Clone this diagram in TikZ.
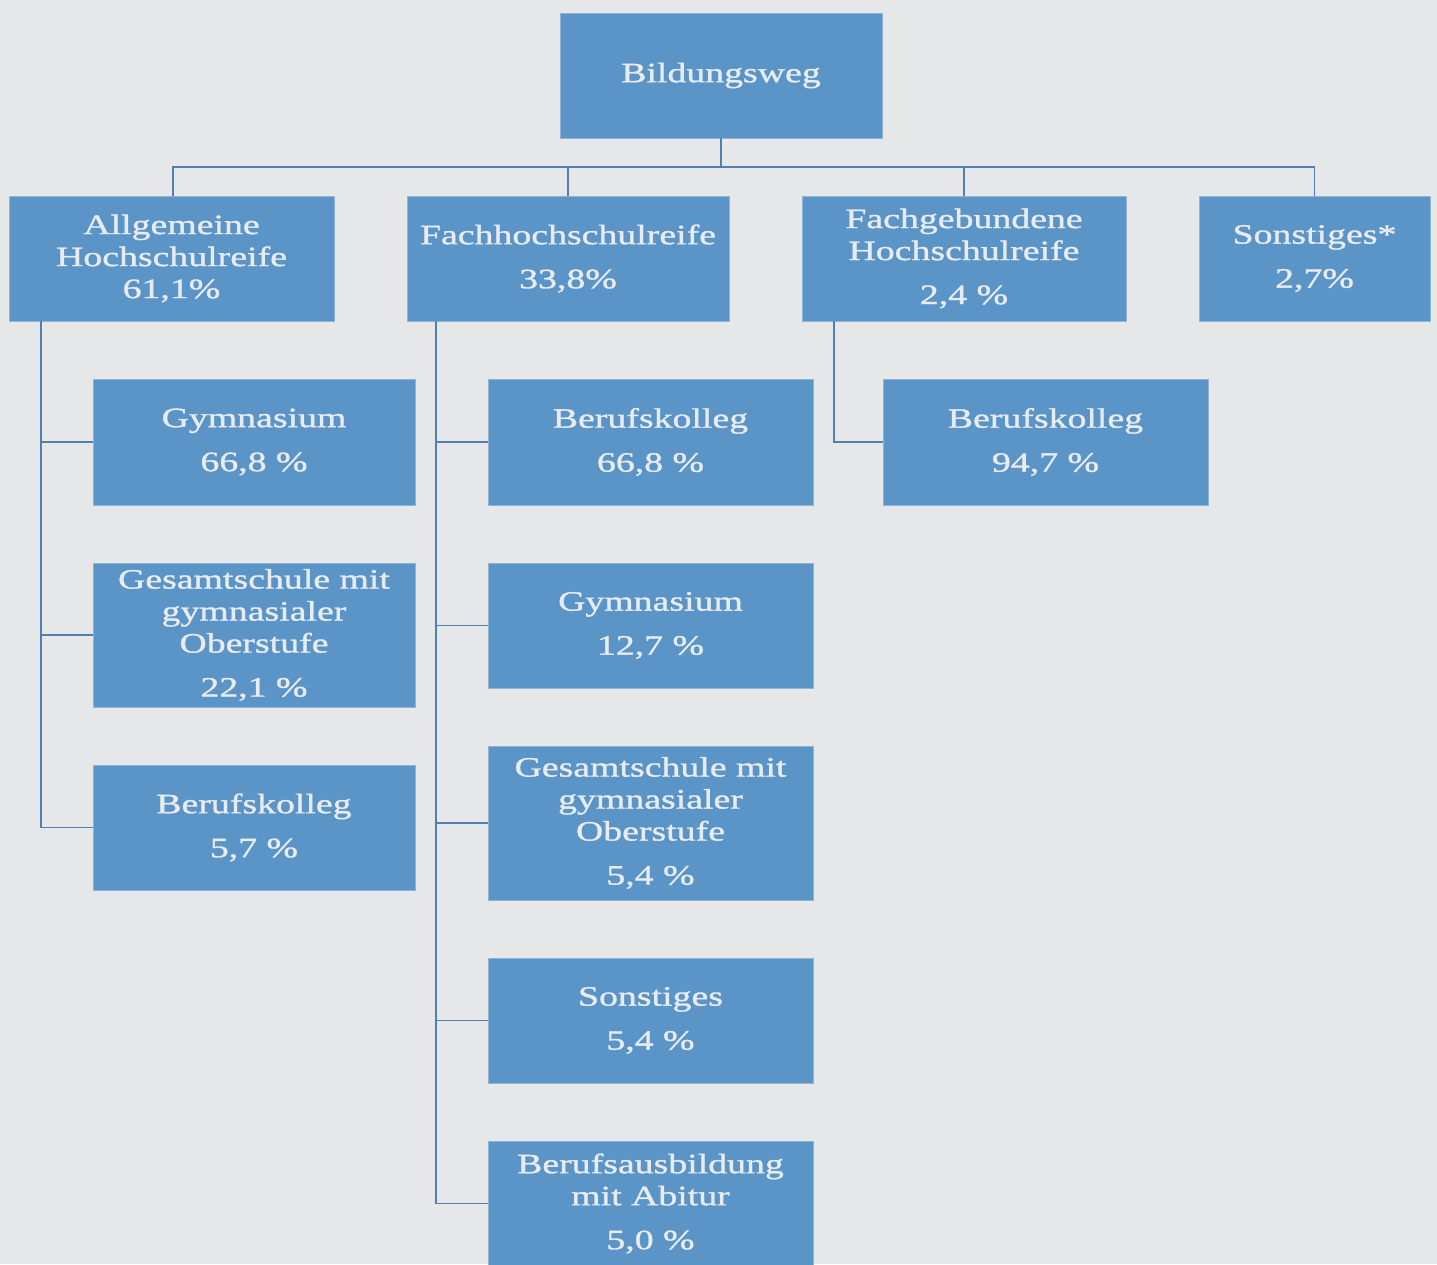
\documentclass[tikz,border=0pt]{standalone}
\usepackage{fontspec}
\setmainfont{Liberation Serif}[FakeStretch=1.35,FakeBold=1.2]
\definecolor{bg}{HTML}{E6E7E9}
\definecolor{boxblue}{HTML}{5B94C6}
\definecolor{boxedge}{HTML}{8DB3D6}
\definecolor{linec}{HTML}{4F80AF}
\definecolor{txt}{HTML}{E8EBF0}
\begin{document}
\begin{tikzpicture}[x=1pt,y=-1pt,
  bx/.style={fill=boxblue, draw=boxedge, line width=0.6pt, text=txt, align=center,
    inner sep=0pt, font=\fontsize{28}{32}\selectfont, minimum height=125pt},
  wa/.style={minimum width=325pt},
  wb/.style={minimum width=322pt},
  conn/.style={draw=linec, line width=1.8pt}]
\fill[bg] (0,0) rectangle (1437,1264);
\useasboundingbox (0,0) rectangle (1437,1264);
% root
\node[bx, wb] (root) at (721,75.5) {Bildungsweg};
% level 1
\node[bx, wa] (A1) at (171.5,258.5) {Allgemeine\\Hochschulreife\\61,1\%};
\node[bx, wb] (A2) at (568,258.5) {Fachhochschulreife\\[12pt]33,8\%};
\node[bx, minimum width=324pt] (A3) at (964,258.5) {Fachgebundene\\Hochschulreife\\[12pt]2,4 \%};
\node[bx, minimum width=231pt] (A4) at (1314.5,258.5) {Sonstiges*\\[12pt]2,7\%};
% column 1
\node[bx, wb, minimum height=126pt] (C1a) at (254,442) {Gymnasium\\[12pt]66,8 \%};
\node[bx, wb, minimum height=144pt] (C1b) at (254,635) {Gesamtschule mit\\gymnasialer\\Oberstufe\\[12pt]22,1 \%};
\node[bx, wb] (C1c) at (254,827.5) {Berufskolleg\\[12pt]5,7 \%};
% column 2
\node[bx, wa, minimum height=126pt] (C2a) at (650.5,442) {Berufskolleg\\[12pt]66,8 \%};
\node[bx, wa] (C2b) at (650.5,625.5) {Gymnasium\\[12pt]12,7 \%};
\node[bx, wa, minimum height=154pt] (C2c) at (650.5,823) {Gesamtschule mit\\gymnasialer\\Oberstufe\\[12pt]5,4 \%};
\node[bx, wa] (C2d) at (650.5,1020.5) {Sonstiges\\[12pt]5,4 \%};
\node[bx, wa] (C2e) at (650.5,1203.5) {Berufsausbildung\\mit Abitur\\[12pt]5,0 \%};
% column 3
\node[bx, wa, minimum height=126pt] (C3a) at (1045.5,442) {Berufskolleg\\[12pt]94,7 \%};
% connectors
\coordinate (bus) at ([yshift=-29pt]root.south);
\draw[conn] (root.south) -- (bus);
\draw[conn] (bus) -| ([xshift=1.5pt]A1.north);
\draw[conn] (bus) -| (A2.north);
\draw[conn] (bus) -| (A3.north);
\draw[conn] (bus) -| (A4.north);
\coordinate (s1) at ([xshift=32pt]A1.south west);
\coordinate (s2) at ([xshift=29pt]A2.south west);
\coordinate (s3) at ([xshift=32pt]A3.south west);
\draw[conn] (s1) |- (C1a.west);
\draw[conn] (s1) |- (C1b.west);
\draw[conn] (s1) |- (C1c.west);
\draw[conn] (s2) |- (C2a.west);
\draw[conn] (s2) |- (C2b.west);
\draw[conn] (s2) |- (C2c.west);
\draw[conn] (s2) |- (C2d.west);
\draw[conn] (s2) |- (C2e.west);
\draw[conn] (s3) |- (C3a.west);
\end{tikzpicture}
\end{document}
